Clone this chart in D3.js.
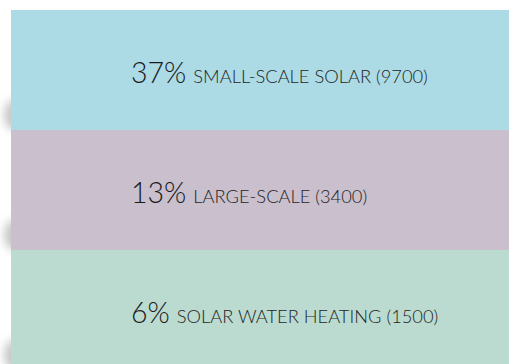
<!DOCTYPE html>
<html><head><meta charset="utf-8">
<script src="https://cdn.jsdelivr.net/npm/d3@7"></script>
<style>html,body{margin:0;padding:0;background:#fff;}svg{display:block;}</style>
</head><body>
<script>
const categories = ["SMALL-SCALE SOLAR", "LARGE-SCALE", "SOLAR WATER HEATING"];
const percents = [37, 13, 6];
const values = [9700, 3400, 1500];
const colors = ["#acdbe6", "#c9bfcd", "#bbdbd0"];

(function(){
const W = 514, H = 364;
const svg = d3.select("body").append("svg").attr("width", W).attr("height", H);
const defs = svg.append("defs");
defs.append("filter").attr("id","blur").attr("x","-100%").attr("y","-100%").attr("width","300%").attr("height","300%")
  .append("feGaussianBlur").attr("stdDeviation", 4);

const x0 = 11, x1 = 509, topY = 10, bandH = 120;
const y = d3.scaleBand().domain(categories).range([topY, topY + bandH * categories.length]).padding(0);

// shadows on the left
svg.append("g").selectAll("ellipse").data(categories).join("ellipse")
  .attr("cx", x0 + 2)
  .attr("cy", d => y(d) + y.bandwidth() - 15)
  .attr("rx", 9).attr("ry", 15)
  .attr("fill", "#9a9a9a").attr("opacity", 0.55)
  .attr("filter", "url(#blur)");

const g = svg.append("g").selectAll("g").data(categories).join("g");
g.append("rect")
  .attr("x", x0).attr("width", x1 - x0)
  .attr("y", d => y(d)).attr("height", y.bandwidth())
  .attr("fill", (d,i) => colors[i]);

const t = g.append("text")
  .attr("x", 131)
  .attr("y", d => y(d) + 72.5)
  .style("font-family", "Lato, 'Open Sans', sans-serif");
t.append("tspan")
  .style("font-size", "28.5px").style("font-weight", 300).attr("fill", "#1a1a1a")
  .text((d,i) => percents[i] + "%");
t.append("tspan")
  .attr("dx", 7)
  .style("font-size", "18.3px").style("font-weight", 300).attr("fill", "#1f1f1f")
  .text((d,i) => d + " (" + values[i] + ")");
})();
</script>
</body></html>
